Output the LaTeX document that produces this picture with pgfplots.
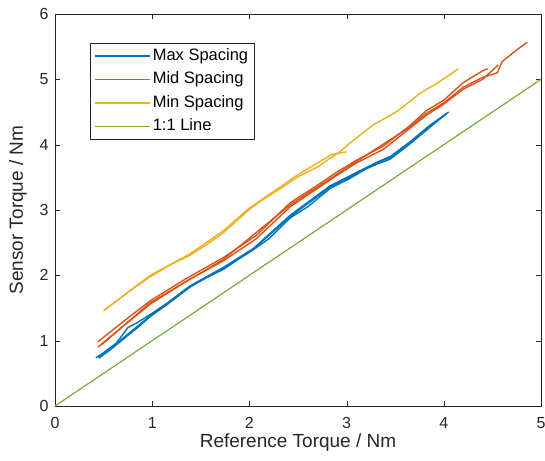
\documentclass[border=0pt]{standalone}
\usepackage{pgfplots}
\pgfplotsset{compat=1.18}
\usepackage{fontspec}
\setmainfont{Liberation Sans}
\definecolor{mblue}{rgb}{0,0.447,0.741}
\definecolor{morange}{rgb}{0.85,0.325,0.098}
\definecolor{myellow}{rgb}{0.929,0.694,0.125}
\definecolor{mgreen}{rgb}{0.466,0.674,0.188}
\definecolor{axgray}{rgb}{0.15,0.15,0.15}
\begin{document}
\begin{tikzpicture}
\path[use as bounding box] (-55pt,-54pt) rectangle (490pt,406pt);
\begin{axis}[
  at={(0pt,0pt)}, anchor=south west,
  scale only axis, width=486pt, height=392pt,
  xmin=0, xmax=5, ymin=0, ymax=6,
  xtick={0,1,2,3,4,5}, ytick={0,1,2,3,4,5,6},
  tick align=inside, major tick length=5pt,
  axis line style={axgray}, tick style={axgray},
  tick label style={font=\fontsize{16}{18}\selectfont, text=axgray},
  xticklabel style={yshift=-8pt},
  yticklabel style={xshift=-3pt},
  /pgf/number format/assume math mode=true,
  xlabel={Reference Torque / Nm}, ylabel={Sensor Torque / Nm},
  label style={font=\fontsize{19}{21}\selectfont, text=axgray},
  xlabel style={at={(axis description cs:0.5,0)}, anchor=center, yshift=-37pt},
  ylabel style={at={(axis description cs:0,0.5)}, anchor=center, yshift=37pt},
  legend style={at={(0.072,0.926)}, anchor=north west, draw=axgray, font=\fontsize{16.5}{18}\selectfont, inner xsep=4pt, inner ysep=3pt, row sep=4pt,
    nodes={inner sep=2pt, text height=12pt, text depth=3.5pt}},
  legend cell align=left,
  legend image code/.code={\draw[#1, line width=1.6pt] (0pt,0pt) -- (55pt,0pt);},
  every axis plot/.append style={line width=1.4pt},
]
\addplot[mblue] coordinates {(0.42,0.74)(0.55,0.84)(0.70,1.02)(0.85,1.20)(0.98,1.37)(1.15,1.55)(1.39,1.82)(1.55,1.96)(1.73,2.09)(1.88,2.24)(2.04,2.39)(2.20,2.56)(2.42,2.88)(2.60,3.05)(2.83,3.33)(3.03,3.48)(3.20,3.63)(3.31,3.70)(3.45,3.78)(3.65,4.01)(3.86,4.27)(4.03,4.48)};
\addlegendentry{Max Spacing}
\addplot[morange] coordinates {(0.44,0.98)(0.70,1.29)(0.98,1.61)(1.35,1.95)(1.73,2.27)(2.07,2.61)(2.42,3.11)(2.69,3.37)(2.90,3.58)(3.10,3.76)(3.38,3.98)(3.65,4.29)(3.82,4.52)(4.00,4.68)(4.20,4.95)(4.41,5.14)(4.45,5.16)};
\addlegendentry{Mid Spacing}
\addplot[myellow] coordinates {(0.50,1.46)(0.75,1.74)(0.98,1.98)(1.20,2.17)(1.39,2.31)(1.55,2.46)(1.73,2.65)(2.00,3.01)(2.14,3.16)(2.30,3.31)(2.49,3.50)(2.70,3.66)(2.93,3.89)(3.03,4.02)(3.27,4.30)(3.51,4.50)(3.76,4.79)(3.93,4.94)(4.15,5.16)};
\addlegendentry{Min Spacing}
\addplot[mgreen, line width=1.2pt] coordinates {(0,0)(5,5)};
\addlegendentry{1:1 Line}
\addplot[mblue, forget plot] coordinates {(0.45,0.73)(0.60,0.90)(0.75,1.20)(0.85,1.28)(0.98,1.40)(1.15,1.57)(1.39,1.84)(1.73,2.12)(2.04,2.41)(2.42,2.92)(2.83,3.37)(3.03,3.52)(3.31,3.73)(3.45,3.82)(3.65,4.04)(3.86,4.30)(4.05,4.50)};
\addplot[mblue, forget plot] coordinates {(0.44,0.75)(0.70,1.04)(0.98,1.38)(1.39,1.83)(1.73,2.10)(2.04,2.40)(2.42,2.90)(2.83,3.35)(3.03,3.50)(3.31,3.72)(3.45,3.80)(3.65,4.03)(3.86,4.29)(4.02,4.46)};
\addplot[morange, forget plot] coordinates {(0.44,0.90)(0.70,1.22)(0.98,1.56)(1.35,1.91)(1.73,2.22)(2.07,2.56)(2.42,3.05)(2.69,3.32)(2.90,3.53)(3.10,3.72)(3.38,3.93)(3.65,4.25)(3.82,4.45)(4.00,4.62)(4.20,4.85)(4.40,5.00)(4.56,5.22)};
\addplot[morange, forget plot] coordinates {(0.48,0.94)(0.98,1.58)(1.73,2.24)(2.42,3.08)(3.10,3.74)(3.65,4.27)(3.82,4.48)(4.00,4.64)(4.20,4.88)(4.40,5.03)(4.55,5.10)(4.60,5.27)(4.75,5.45)(4.86,5.57)};
\addplot[myellow, forget plot] coordinates {(0.52,1.48)(0.98,2.00)(1.39,2.33)(1.73,2.68)(2.00,3.03)(2.49,3.53)(2.70,3.72)(2.85,3.85)(3.00,3.89)};
\end{axis}
\end{tikzpicture}
\end{document}
